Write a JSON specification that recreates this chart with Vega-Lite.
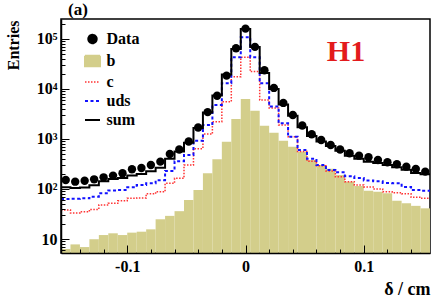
{
  "$schema": "https://vega.github.io/schema/vega-lite/v6.json",
  "width": 369,
  "height": 234,
  "autosize": {"type": "none"},
  "padding": {"left": 61, "top": 19, "right": 1, "bottom": 46},
  "background": "white",
  "config": {"view": {"stroke": "#000", "strokeWidth": 1.5}, "font": "Liberation Serif"},
  "title": {"text": "(a)", "anchor": "start", "frame": "group", "dx": 7, "dy": 18, "fontSize": 17, "font": "Liberation Serif", "fontWeight": "bold", "offset": 1, "baseline": "bottom", "color": "#000"},
  "data": {"values": [
    {"lo": -0.156, "hi": -0.148, "mid": -0.152, "data": 151, "b": 6.3, "c": 38, "uds": 63, "sum": 108},
    {"lo": -0.148, "hi": -0.140, "mid": -0.144, "data": 140, "b": 7.8, "c": 33, "uds": 64, "sum": 105},
    {"lo": -0.140, "hi": -0.132, "mid": -0.136, "data": 146, "b": 6.9, "c": 35, "uds": 65, "sum": 107},
    {"lo": -0.132, "hi": -0.124, "mid": -0.128, "data": 156, "b": 9.9, "c": 39, "uds": 70, "sum": 119},
    {"lo": -0.124, "hi": -0.116, "mid": -0.120, "data": 171, "b": 12, "c": 48, "uds": 82, "sum": 142},
    {"lo": -0.116, "hi": -0.108, "mid": -0.112, "data": 185, "b": 13, "c": 52, "uds": 93, "sum": 158},
    {"lo": -0.108, "hi": -0.100, "mid": -0.104, "data": 206, "b": 12, "c": 58, "uds": 95, "sum": 165},
    {"lo": -0.100, "hi": -0.092, "mid": -0.096, "data": 248, "b": 13.4, "c": 65, "uds": 108, "sum": 186},
    {"lo": -0.092, "hi": -0.084, "mid": -0.088, "data": 263, "b": 14, "c": 66, "uds": 120, "sum": 200},
    {"lo": -0.084, "hi": -0.076, "mid": -0.080, "data": 302, "b": 15.6, "c": 80, "uds": 130, "sum": 226},
    {"lo": -0.076, "hi": -0.068, "mid": -0.072, "data": 352, "b": 24.8, "c": 88, "uds": 150, "sum": 265},
    {"lo": -0.068, "hi": -0.060, "mid": -0.064, "data": 501, "b": 29, "c": 130, "uds": 230, "sum": 400},
    {"lo": -0.060, "hi": -0.052, "mid": -0.056, "data": 617, "b": 36, "c": 164, "uds": 360, "sum": 560},
    {"lo": -0.052, "hi": -0.044, "mid": -0.048, "data": 891, "b": 60, "c": 300, "uds": 479, "sum": 840},
    {"lo": -0.044, "hi": -0.036, "mid": -0.040, "data": 1698, "b": 95, "c": 640, "uds": 925, "sum": 1660},
    {"lo": -0.036, "hi": -0.028, "mid": -0.032, "data": 3436, "b": 206, "c": 1250, "uds": 1905, "sum": 3360},
    {"lo": -0.028, "hi": -0.020, "mid": -0.024, "data": 7311, "b": 393, "c": 2220, "uds": 4790, "sum": 7400},
    {"lo": -0.020, "hi": -0.012, "mid": -0.016, "data": 18450, "b": 883, "c": 5570, "uds": 13000, "sum": 19450},
    {"lo": -0.012, "hi": -0.004, "mid": -0.008, "data": 65160, "b": 2512, "c": 17600, "uds": 43000, "sum": 63100},
    {"lo": -0.004, "hi": 0.004, "mid": 0.000, "data": 160700, "b": 6310, "c": 43000, "uds": 108000, "sum": 157300},
    {"lo": 0.004, "hi": 0.012, "mid": 0.008, "data": 69180, "b": 3680, "c": 22200, "uds": 43000, "sum": 68900},
    {"lo": 0.012, "hi": 0.020, "mid": 0.016, "data": 23660, "b": 1845, "c": 6000, "uds": 13000, "sum": 20850},
    {"lo": 0.020, "hi": 0.028, "mid": 0.024, "data": 10470, "b": 1337, "c": 4170, "uds": 4430, "sum": 9940},
    {"lo": 0.028, "hi": 0.036, "mid": 0.032, "data": 5250, "b": 925, "c": 1905, "uds": 2060, "sum": 4890},
    {"lo": 0.036, "hi": 0.044, "mid": 0.040, "data": 3020, "b": 701, "c": 1110, "uds": 1110, "sum": 2920},
    {"lo": 0.044, "hi": 0.052, "mid": 0.048, "data": 1862, "b": 557, "c": 560, "uds": 600, "sum": 1720},
    {"lo": 0.052, "hi": 0.060, "mid": 0.056, "data": 1241, "b": 380, "c": 360, "uds": 400, "sum": 1140},
    {"lo": 0.060, "hi": 0.068, "mid": 0.064, "data": 955, "b": 302, "c": 290, "uds": 300, "sum": 892},
    {"lo": 0.068, "hi": 0.076, "mid": 0.072, "data": 759, "b": 255, "c": 230, "uds": 240, "sum": 725},
    {"lo": 0.076, "hi": 0.084, "mid": 0.080, "data": 617, "b": 190, "c": 175, "uds": 215, "sum": 580},
    {"lo": 0.084, "hi": 0.092, "mid": 0.088, "data": 518, "b": 140, "c": 140, "uds": 180, "sum": 460},
    {"lo": 0.092, "hi": 0.100, "mid": 0.096, "data": 463, "b": 115, "c": 120, "uds": 165, "sum": 400},
    {"lo": 0.100, "hi": 0.108, "mid": 0.104, "data": 431, "b": 92, "c": 110, "uds": 148, "sum": 350},
    {"lo": 0.108, "hi": 0.116, "mid": 0.112, "data": 380, "b": 88, "c": 100, "uds": 142, "sum": 330},
    {"lo": 0.116, "hi": 0.124, "mid": 0.120, "data": 342, "b": 82, "c": 88, "uds": 132, "sum": 302},
    {"lo": 0.124, "hi": 0.132, "mid": 0.128, "data": 312, "b": 58, "c": 84, "uds": 130, "sum": 272},
    {"lo": 0.132, "hi": 0.140, "mid": 0.136, "data": 279, "b": 52, "c": 80, "uds": 110, "sum": 242},
    {"lo": 0.140, "hi": 0.148, "mid": 0.144, "data": 251, "b": 46, "c": 68, "uds": 95, "sum": 209},
    {"lo": 0.148, "hi": 0.156, "mid": 0.152, "data": 222, "b": 41, "c": 65, "uds": 92, "sum": 198}
  ]},
  "layer": [
    {
      "mark": {"type": "rect", "clip": true},
      "encoding": {
        "x": {"field": "lo", "type": "quantitative",
              "scale": {"domain": [-0.156, 0.156], "nice": false, "zero": false},
              "axis": {"values": [-0.1, 0, 0.1], "labelExpr": "datum.value < 0 ? '-0.1' : datum.value > 0 ? '0.1' : '0'",
                       "tickSize": -8, "tickColor": "#000", "tickWidth": 1, "domain": true, "domainColor": "#000", "domainWidth": 1.5,
                       "grid": false, "zindex": 1, "labelFont": "Liberation Serif", "labelFontSize": 16, "labelFontWeight": "bold",
                       "labelColor": "#000", "labelPadding": 13, "labelFlush": false,
                       "title": "δ / cm", "titleFont": "Liberation Serif", "titleFontSize": 18, "titleFontWeight": "bold", "titleColor": "#000",
                       "titleAnchor": "end", "titleX": 369, "titleY": 36, "titleAlign": "right", "titleBaseline": "middle"}},
        "x2": {"field": "hi"},
        "y": {"field": "b", "type": "quantitative",
              "scale": {"type": "log", "domain": [5.25, 250000], "nice": false},
              "axis": {"values": [10, 100, 1000, 10000, 100000],
                       "labelExpr": "datum.value == 10 ? '10' : datum.value == 100 ? '10²' : datum.value == 1000 ? '10³' : datum.value == 10000 ? '10⁴' : '10⁵'",
                       "tickSize": -8, "tickColor": "#000", "tickWidth": 1, "domain": true, "domainColor": "#000", "domainWidth": 1.5,
                       "grid": false, "zindex": 1, "labelFont": "Liberation Serif", "labelFontSize": 16, "labelFontWeight": "bold",
                       "labelColor": "#000", "labelPadding": 12, "labelFlush": false,
                       "title": "Entries", "titleFont": "Liberation Serif", "titleFontSize": 16, "titleFontWeight": "bold", "titleColor": "#000",
                       "titleAnchor": "end", "titleAngle": 270, "titleX": -48, "titleY": 1, "titleAlign": "right", "titleBaseline": "middle"}},
        "y2": {"datum": 1},
        "color": {"datum": "b", "type": "nominal",
                  "scale": {"domain": ["Data", "b", "c", "uds", "sum"], "range": ["#000000", "#d3ce8b", "#ff3333", "#1111ff", "#000000"]},
                  "legend": {"orient": "none", "legendX": 23.5, "legendY": 12, "title": null, "padding": 0,
                             "labelFont": "Liberation Serif", "labelFontWeight": "bold", "labelFontSize": 16, "labelColor": "#000",
                             "symbolSize": 225, "rowPadding": 3, "labelOffset": 6,
                             "encode": {"symbols": {"update": {
                               "shape": {"signal": "datum.value === 'Data' ? 'circle' : datum.value === 'b' ? 'M-1,-0.7L1,-0.7L1,0.7L-1,0.7Z' : 'stroke'"},
                               "size": {"signal": "datum.value === 'Data' ? 70 : 225"},
                               "fill": {"signal": "datum.value === 'Data' ? '#000000' : datum.value === 'b' ? '#d3ce8b' : 'transparent'"},
                               "stroke": {"signal": "datum.value === 'c' ? '#ff3333' : datum.value === 'uds' ? '#1111ff' : datum.value === 'sum' ? '#000000' : 'transparent'"},
                               "strokeWidth": {"signal": "datum.value === 'c' ? 1.5 : 2"},
                               "strokeDash": {"signal": "datum.value === 'c' ? [1.5, 1.5] : datum.value === 'uds' ? [3, 2.5] : [1, 0]"},
                               "opacity": {"value": 1}
                             }}}}}
      }
    },
    {
      "transform": [{"fold": ["lo", "hi"], "as": ["edge", "xpos"]}],
      "mark": {"type": "line", "strokeWidth": 1.5, "strokeDash": [1.5, 1.5], "clip": true},
      "encoding": {
        "x": {"field": "xpos", "type": "quantitative",
              "axis": {"values": [-0.14, -0.12, -0.08, -0.06, -0.04, -0.02, 0.02, 0.04, 0.06, 0.08, 0.12, 0.14],
                       "orient": "bottom", "labels": false, "tickSize": -4, "tickColor": "#000", "tickWidth": 1, "domain": false, "grid": false, "title": null, "zindex": 1}},
        "y": {"field": "c", "type": "quantitative",
              "axis": {"values": [6, 7, 8, 9, 20, 30, 40, 50, 60, 70, 80, 90, 200, 300, 400, 500, 600, 700, 800, 900, 2000, 3000, 4000, 5000, 6000, 7000, 8000, 9000, 20000, 30000, 40000, 50000, 60000, 70000, 80000, 90000, 200000],
                       "orient": "left", "labels": false, "tickSize": -4, "tickColor": "#000", "tickWidth": 1, "domain": false, "grid": false, "title": null, "zindex": 1}},
        "order": [{"field": "xpos", "type": "quantitative"}, {"field": "edge", "type": "nominal"}],
        "color": {"datum": "c", "type": "nominal"}
      }
    },
    {
      "transform": [{"fold": ["lo", "hi"], "as": ["edge", "xpos"]}],
      "mark": {"type": "line", "strokeWidth": 2, "strokeDash": [3, 2.5], "clip": true},
      "encoding": {
        "x": {"field": "xpos", "type": "quantitative", "axis": null},
        "y": {"field": "uds", "type": "quantitative", "axis": null},
        "order": [{"field": "xpos", "type": "quantitative"}, {"field": "edge", "type": "nominal"}],
        "color": {"datum": "uds", "type": "nominal"}
      }
    },
    {
      "transform": [{"fold": ["lo", "hi"], "as": ["edge", "xpos"]}],
      "mark": {"type": "line", "strokeWidth": 2, "clip": true},
      "encoding": {
        "x": {"field": "xpos", "type": "quantitative", "axis": null},
        "y": {"field": "sum", "type": "quantitative", "axis": null},
        "order": [{"field": "xpos", "type": "quantitative"}, {"field": "edge", "type": "nominal"}],
        "color": {"datum": "sum", "type": "nominal"}
      }
    },
    {
      "mark": {"type": "circle", "size": 70, "opacity": 1},
      "encoding": {
        "x": {"field": "mid", "type": "quantitative", "axis": null},
        "y": {"field": "data", "type": "quantitative", "axis": null},
        "color": {"datum": "Data", "type": "nominal"}
      }
    },
    {
      "data": {"values": [{}]},
      "mark": {"type": "text", "text": "H1", "font": "Liberation Serif", "fontWeight": "bold", "fontSize": 30, "color": "#e31a1c", "align": "center", "baseline": "middle"},
      "encoding": {
        "x": {"datum": 0.085, "type": "quantitative", "axis": null},
        "y": {"datum": 55000, "type": "quantitative", "axis": null}
      }
    }
  ],
  "resolve": {"axis": {"x": "independent", "y": "independent"}}
}
